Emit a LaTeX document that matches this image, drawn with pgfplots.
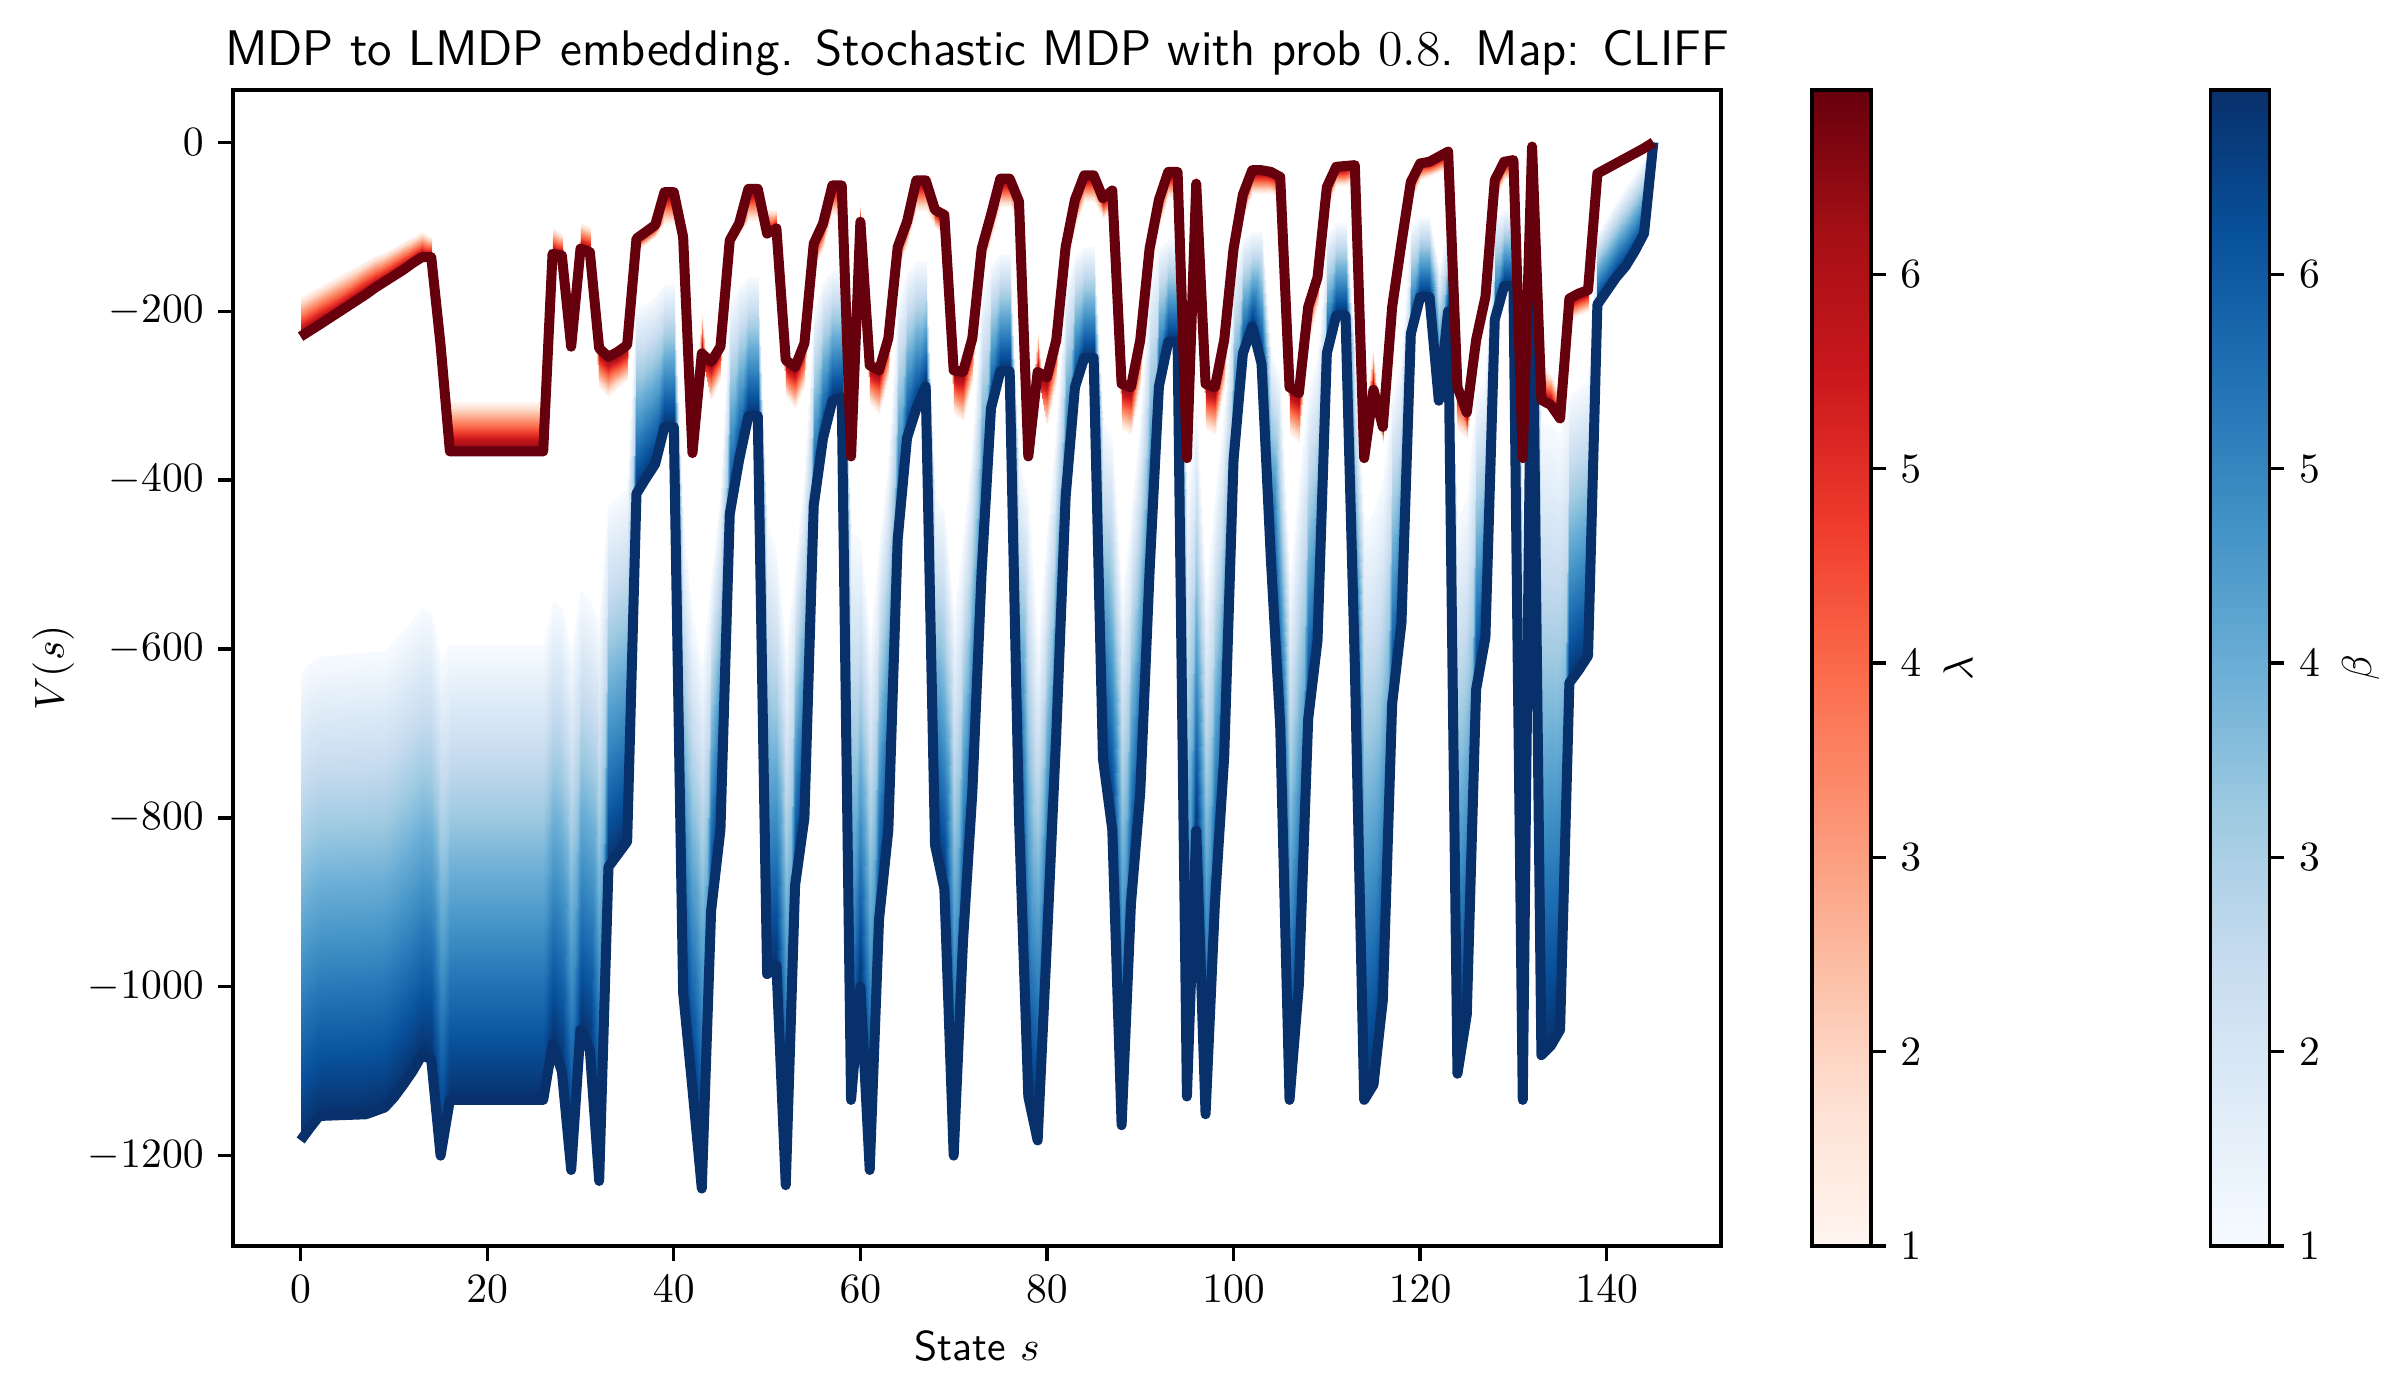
\documentclass[border=0pt]{standalone}
\usepackage{pgfplots}
\usepackage{pgfplotstable}
\pgfplotsset{compat=1.18}

\definecolor{bdark}{RGB}{8,48,107}
\definecolor{rdark}{RGB}{103,0,13}
\pgfplotsset{
 colormap={mpreds}{rgb255=(255,245,240) rgb255=(254,224,210) rgb255=(252,187,161) rgb255=(252,146,114) rgb255=(251,106,74) rgb255=(239,59,44) rgb255=(203,24,29) rgb255=(165,15,21) rgb255=(103,0,13)},
 colormap={mpblues}{rgb255=(247,251,255) rgb255=(222,235,247) rgb255=(198,219,239) rgb255=(158,202,225) rgb255=(107,174,214) rgb255=(66,146,198) rgb255=(33,113,181) rgb255=(8,81,156) rgb255=(8,48,107)},
}

% s: state, R7: darkest red (lambda max), R1: lightest red (lambda=1),
% B7: darkest blue (beta max), B1: lightest blue (beta=1)
\pgfplotstableread{
s R7 R1 B7 B1
0 -230 -183 -1182 -630
1 -223 -177 -1167 -615
2 -216 -171 -1153 -608
7 -180 -141 -1151 -604
8 -172 -135 -1147 -604
9 -165 -130 -1143 -602
10 -158 -124 -1131 -591
11 -151 -118 -1116 -578
12 -143 -112 -1100 -565
13 -136 -106 -1081 -551
14 -136 -112 -1086 -556
15 -240 -225 -1200 -613
16 -366 -308 -1134 -595
26 -366 -308 -1134 -595
27 -132 -102 -1068 -543
28 -134 -108 -1100 -551
29 -242 -215 -1217 -604
30 -126 -95 -1051 -530
31 -130 -100 -1075 -543
32 -244 -290 -1230 -569
33 -254 -300 -858 -429
34 -248 -290 -843 -420
35 -240 -282 -828 -411
36 -114 -128 -416 -195
37 -106 -120 -398 -191
38 -98 -112 -381 -183
39 -59 -95 -337 -169
40 -59 -95 -337 -167
41 -112 -125 -1007 -450
42 -368 -330 -1121 -560
43 -250 -203 -1239 -620
44 -260 -305 -910 -520
45 -242 -282 -814 -420
46 -116 -125 -440 -190
47 -96 -110 -376 -171
48 -55 -92 -324 -159
49 -55 -92 -324 -159
50 -108 -80 -985 -450
51 -102 -80 -975 -486
52 -258 -300 -1235 -600
53 -266 -315 -880 -500
54 -238 -290 -800 -400
55 -120 -150 -430 -200
56 -96 -125 -350 -165
57 -51 -85 -306 -151
58 -51 -85 -302 -151
59 -372 -330 -1134 -460
60 -94 -75 -1000 -470
61 -264 -310 -1217 -590
62 -270 -320 -920 -480
63 -232 -280 -814 -380
64 -124 -150 -470 -190
65 -94 -120 -350 -155
66 -45 -80 -315 -141
67 -45 -80 -289 -141
68 -80 -100 -832 -420
69 -86 -110 -884 -437
70 -270 -320 -1200 -560
71 -272 -330 -946 -470
72 -232 -285 -770 -360
73 -126 -150 -508 -180
74 -86 -115 -315 -145
75 -43 -75 -271 -132
76 -43 -75 -271 -132
77 -70 -95 -800 -380
78 -372 -330 -1130 -420
79 -272 -226 -1182 -595
80 -278 -335 -946 -460
81 -234 -285 -700 -340
82 -124 -150 -420 -170
83 -68 -100 -290 -135
84 -39 -70 -255 -124
85 -39 -70 -255 -124
86 -66 -90 -730 -330
87 -57 -80 -814 -350
88 -286 -340 -1164 -540
89 -290 -345 -902 -440
90 -234 -290 -770 -330
91 -126 -150 -508 -160
92 -68 -100 -289 -125
93 -35 -65 -236 -116
94 -35 -65 -236 -116
95 -374 -330 -1130 -420
96 -49 -40 -815 -310
97 -286 -340 -1151 -530
98 -290 -345 -902 -420
99 -234 -290 -727 -320
100 -126 -150 -376 -150
101 -62 -90 -250 -115
102 -33 -60 -218 -106
103 -33 -60 -262 -106
104 -35 -60 -494 -250
105 -41 -65 -691 -280
106 -290 -345 -1134 -520
107 -297 -355 -998 -400
108 -195 -240 -683 -300
109 -160 -190 -590 -250
110 -53 -80 -250 -110
111 -29 -50 -205 -96
112 -28 -50 -205 -96
113 -27 -45 -620 -250
114 -374 -330 -1134 -450
115 -293 -246 -1116 -440
116 -337 -355 -1016 -400
117 -195 -220 -665 -300
118 -119 -150 -569 -260
119 -47 -70 -227 -100
120 -25 -45 -183 -88
121 -23 -40 -183 -88
122 -17 -35 -306 -150
123 -11 -30 -200 -100
124 -290 -340 -1103 -450
125 -320 -350 -1033 -420
126 -234 -270 -648 -300
127 -183 -210 -586 -280
128 -45 -70 -210 -90
129 -23 -45 -170 -80
130 -21 -40 -170 -80
131 -374 -330 -1134 -450
132 -5 -20 -115 -60
133 -305 -265 -1081 -330
134 -311 -275 -1070 -335
135 -327 -300 -1051 -345
136 -185 -210 -640 -300
137 -179 -205 -625 -290
138 -175 -200 -608 -280
139 -37 -40 -192 -110
140 -31 -34 -176 -90
141 -25 -28 -160 -72
142 -19 -21 -147 -55
143 -13 -14 -129 -38
144 -7 -7 -108 -20
145 0 0 0 0
}\data

\pgfplotstablevertcat{\dbl}{\data}
\pgfplotstablevertcat{\dbl}{\data}
\pgfplotstablegetrowsof{\data}
\pgfmathtruncatemacro{\N}{\pgfplotsretval}

\pgfplotsset{
  cbstyle/.style={
    scale only axis, width=14.16pt, height=277.44pt,
    ytick={1,2,3,4,5,6}, ytick pos=right, yticklabel pos=right,
    tick align=outside, major tick length=3.5pt,
    every tick/.style={black, line width=0.8pt},
    axis line style={line width=0.8pt}, ylabel shift=-1.5pt},
}

\begin{document}
\begin{tikzpicture}
\path[use as bounding box] (0,0) rectangle (576pt,334.56pt);
\begin{axis}[
  at={(55.92pt,35.52pt)}, anchor=south west, scale only axis,
  width=357.12pt, height=277.44pt,
  xmin=-7.25, xmax=152.25, ymin=-1307, ymax=62,
  xtick={0,20,...,140}, ytick={-1200,-1000,...,0},
  tick align=outside, tick pos=left, major tick length=3.5pt,
  every tick/.style={black, line width=0.8pt},
  axis line style={line width=0.8pt},
  /pgf/number format/1000 sep={},
  title={\sffamily MDP to LMDP embedding. Stochastic MDP with prob $0.8$. Map: CLIFF},
  title style={font=\large, yshift=-6pt},
  xlabel={\sffamily State $s$}, ylabel={$V(s)$}, ylabel shift=-3.5pt,
  point meta min=1, point meta max=6.95,
]
\addplot[surf, shader=interp, colormap name=mpblues, mesh/rows=2,
  point meta={1+5.95*(\coordindex>=\N)}]
  table[x=s, y expr={\thisrow{B1}*(\coordindex<\N)+\thisrow{B7}*(\coordindex>=\N)}] {\dbl};
\addplot[color=bdark, line width=2.4pt, line join=round] table[x=s, y=B7] {\data};
\addplot[surf, shader=interp, colormap name=mpreds, mesh/rows=2,
  point meta={1+5.95*(\coordindex>=\N)}]
  table[x=s, y expr={\thisrow{R1}*(\coordindex<\N)+\thisrow{R7}*(\coordindex>=\N)}] {\dbl};
\addplot[color=rdark, line width=2.4pt, line join=round] table[x=s, y=R7] {\data};
\end{axis}

\begin{axis}[
  at={(55.92pt,35.52pt)}, anchor=south west, scale only axis,
  width=357.12pt, height=277.44pt, hide axis,
  xmin=0, xmax=1, ymin=0, ymax=1,
  colormap name=mpreds, point meta min=1, point meta max=6.95,
  colorbar,
  colorbar style={cbstyle, at={(parent axis.south east)}, anchor=south west,
    xshift=13.3pt, ylabel={$\lambda$}},
]
\addplot[draw=none] coordinates {(0.5,0.5)};
\end{axis}

\begin{axis}[
  at={(55.92pt,35.52pt)}, anchor=south west, scale only axis,
  width=357.12pt, height=277.44pt, hide axis,
  xmin=0, xmax=1, ymin=0, ymax=1,
  colormap name=mpblues, point meta min=1, point meta max=6.95,
  colorbar,
  colorbar style={cbstyle, at={(parent axis.south east)}, anchor=south west,
    xshift=109pt, ylabel={$\beta$}},
]
\addplot[draw=none] coordinates {(0.5,0.5)};
\end{axis}
\end{tikzpicture}
\end{document}
